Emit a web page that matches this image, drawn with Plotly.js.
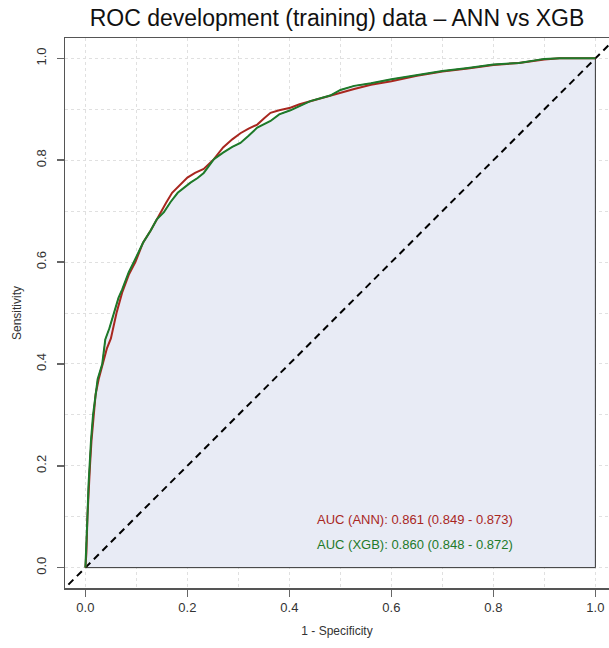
<!DOCTYPE html>
<html>
<head>
<meta charset="utf-8">
<script src="https://cdn.plot.ly/plotly-3.0.1.min.js"></script>
<style>html,body{margin:0;padding:0;background:#fff;}#chart{width:609px;height:648px;}</style>
</head>
<body>
<div id="chart"></div>
<script>
// 1 - Specificity / Sensitivity
const annFpr = [0, 0.002, 0.004, 0.006, 0.009, 0.012, 0.016, 0.020, 0.026, 0.034, 0.042, 0.050, 0.061, 0.072, 0.085, 0.098, 0.113, 0.128, 0.140, 0.147, 0.158, 0.170, 0.185, 0.200, 0.215, 0.232, 0.252, 0.270, 0.288, 0.304, 0.320, 0.337, 0.350, 0.363, 0.380, 0.402, 0.420, 0.441, 0.460, 0.480, 0.500, 0.527, 0.560, 0.600, 0.650, 0.700, 0.750, 0.800, 0.850, 0.900, 0.930, 1.000];
const annTpr = [0, 0.030, 0.100, 0.150, 0.200, 0.250, 0.300, 0.340, 0.370, 0.400, 0.430, 0.450, 0.500, 0.540, 0.575, 0.600, 0.638, 0.662, 0.684, 0.698, 0.716, 0.736, 0.752, 0.766, 0.775, 0.783, 0.802, 0.825, 0.841, 0.853, 0.862, 0.870, 0.882, 0.893, 0.898, 0.903, 0.910, 0.916, 0.921, 0.926, 0.932, 0.940, 0.948, 0.955, 0.966, 0.974, 0.980, 0.987, 0.991, 0.998, 1.000, 1.000];

const xgbFpr = [0, 0.002, 0.004, 0.006, 0.008, 0.011, 0.015, 0.019, 0.024, 0.033, 0.039, 0.047, 0.056, 0.065, 0.072, 0.085, 0.095, 0.113, 0.128, 0.140, 0.154, 0.167, 0.181, 0.206, 0.220, 0.232, 0.252, 0.270, 0.288, 0.304, 0.320, 0.337, 0.363, 0.380, 0.402, 0.441, 0.480, 0.500, 0.527, 0.560, 0.600, 0.650, 0.700, 0.750, 0.800, 0.850, 0.900, 0.930, 1.000];
const xgbTpr = [0, 0.040, 0.100, 0.160, 0.200, 0.250, 0.300, 0.330, 0.370, 0.400, 0.448, 0.470, 0.500, 0.530, 0.546, 0.580, 0.600, 0.638, 0.662, 0.684, 0.698, 0.718, 0.736, 0.756, 0.765, 0.775, 0.802, 0.815, 0.826, 0.834, 0.848, 0.864, 0.877, 0.890, 0.898, 0.916, 0.927, 0.938, 0.946, 0.951, 0.959, 0.967, 0.975, 0.981, 0.988, 0.991, 0.999, 1.000, 1.000];

const aucLabels = ["AUC (ANN): 0.861 (0.849 - 0.873)", "AUC (XGB): 0.860 (0.848 - 0.872)"];
const diagonal = [-0.05, 1.05];

const RED = '#A8271F', GREEN = '#1E7A2A';

const traces = [
  { // shaded area under the curve
    x: xgbFpr.concat([1, 0]), y: xgbTpr.concat([0, 0]),
    mode: 'lines', fill: 'toself', fillcolor: '#E8EBF5',
    line: {color: '#333', width: 1}, hoverinfo: 'skip', showlegend: false
  },
  {
    x: diagonal, y: diagonal, mode: 'lines',
    line: {color: '#000', width: 2, dash: '7px,5px'}, showlegend: false
  },
  {
    x: annFpr, y: annTpr, mode: 'lines', name: 'ANN',
    line: {color: RED, width: 2}, showlegend: false
  },
  {
    x: xgbFpr, y: xgbTpr, mode: 'lines', name: 'XGB',
    line: {color: GREEN, width: 2}, showlegend: false
  }
];

const gridStyle = {showgrid: true, gridcolor: '#e0e0e0', griddash: 'dot', gridwidth: 1};

const layout = {
  width: 609, height: 648,
  margin: {l: 65, r: 0, t: 38, b: 60},
  paper_bgcolor: '#fff', plot_bgcolor: '#fff',
  font: {family: 'Liberation Sans, Arial, sans-serif', color: '#222'},
  title: {text: 'ROC development (training) data – ANN vs XGB', xref: 'paper', x: 0.5, xanchor: 'center', y: 0.972, yanchor: 'middle', font: {size: 23, color: '#111'}},
  xaxis: Object.assign({
    range: [-0.04, 1.0267], tickvals: [0, 0.2, 0.4, 0.6, 0.8, 1.0], ticktext: ['0.0', '0.2', '0.4', '0.6', '0.8', '1.0'],
    ticks: 'outside', ticklen: 7, tickcolor: '#666', tickwidth: 1.5,
    showline: true, mirror: true, linecolor: '#555', linewidth: 1.5, zeroline: false,
    tickfont: {size: 13, color: '#333'},
    minor: {dtick: 0.1, tick0: 0, showgrid: true, gridcolor: '#e0e0e0', griddash: 'dot', ticks: ''},
    title: {text: '1 - Specificity', font: {size: 12, color: '#333'}, standoff: 12}
  }, gridStyle),
  yaxis: Object.assign({
    range: [-0.04, 1.04], tickvals: [0, 0.2, 0.4, 0.6, 0.8, 1.0], ticktext: ['0.0', '0.2', '0.4', '0.6', '0.8', '1.0'],
    ticks: 'outside', ticklen: 7, tickcolor: '#666', tickwidth: 1.5, tickangle: -90, ticklabelstandoff: 5,
    showline: true, mirror: true, linecolor: '#555', linewidth: 1.5, zeroline: false,
    tickfont: {size: 13, color: '#333'},
    minor: {dtick: 0.1, tick0: 0, showgrid: true, gridcolor: '#e0e0e0', griddash: 'dot', ticks: ''},
    title: {text: 'Sensitivity', font: {size: 12, color: '#333'}, standoff: 10}
  }, gridStyle),
  annotations: [
    {x: 0.451, y: 0.094, xref: 'x', yref: 'y', xanchor: 'left', yanchor: 'middle', showarrow: false,
     text: aucLabels[0], font: {size: 13, color: RED}},
    {x: 0.451, y: 0.045, xref: 'x', yref: 'y', xanchor: 'left', yanchor: 'middle', showarrow: false,
     text: aucLabels[1], font: {size: 13, color: GREEN}}
  ]
};

Plotly.newPlot('chart', traces, layout, {displayModeBar: false, staticPlot: true});
</script>
</body>
</html>
